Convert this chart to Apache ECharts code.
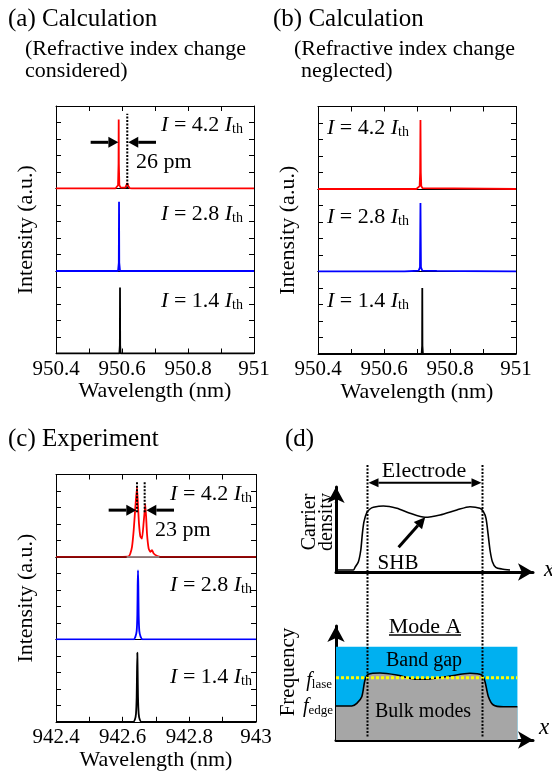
<!DOCTYPE html>
<html>
<head>
<meta charset="utf-8">
<script src="https://cdn.jsdelivr.net/npm/echarts@6/dist/echarts.min.js"></script>
<style>
  html, body { margin: 0; padding: 0; background: #fff; }
  #chart { width: 552px; height: 773px; }
</style>
</head>
<body>
<div id="chart"></div>
<script>
(function () {
  var FONT = '"Liberation Serif", "Times New Roman", serif';
  var TRACE_COLORS = ['#ff0000', '#0000ff', '#000000'];
  var CURRENTS = ['4.2', '2.8', '1.4'];

  // (a) calculation, refractive index change considered  [wavelength nm, intensity]
  var A_RED = [[950.4, 0], [950.58, 0], [950.585, 0.01], [950.588, 0.04], [950.5895, 0.3], [950.590, 0.836],
    [950.5905, 0.3], [950.592, 0.04], [950.596, 0.01], [950.61, 0.01], [950.613, 0.03], [950.616, 0.065],
    [950.619, 0.03], [950.623, 0.005], [950.63, 0], [951, 0]];
  var A_BLUE = [[950.4, 0], [950.588, 0], [950.5903, 0.1], [950.591, 0.84], [950.5917, 0.1], [950.594, 0], [951, 0]];
  var A_BLACK = [[950.4, 0], [950.592, 0], [950.5935, 0.1], [950.594, 0.8], [950.5945, 0.1], [950.596, 0], [951, 0]];

  // (b) calculation, refractive index change neglected
  var B_RED = [[950.4, 0], [950.698, 0], [950.704, 0.01], [950.708, 0.035], [950.7095, 0.2], [950.7105, 0.835],
    [950.7115, 0.2], [950.713, 0.035], [950.717, 0.01], [950.723, 0], [951, 0]];
  var B_BLUE = [[950.4, 0], [950.662, 0], [950.666, 0.008], [950.705, 0.01], [950.709, 0.05], [950.7105, 0.83],
    [950.712, 0.05], [950.716, 0.01], [950.76, 0.008], [950.764, 0], [951, 0]];
  var B_BLACK = [[950.4, 0], [950.714, 0], [950.7155, 0.1], [950.716, 0.8], [950.7165, 0.1], [950.718, 0], [951, 0]];

  // (c) experiment
  var C_RED = [[942.4, 0], [942.6, 0], [942.618, 0.005], [942.623, 0.04], [942.628, 0.12], [942.633, 0.32],
    [942.638, 0.6], [942.643, 0.85], [942.646, 0.62], [942.649, 0.4], [942.653, 0.25], [942.658, 0.22],
    [942.663, 0.42], [942.668, 0.64], [942.673, 0.28], [942.678, 0.1], [942.683, 0.06], [942.688, 0.08],
    [942.693, 0.04], [942.704, 0.01], [942.714, 0], [943, 0]];
  var C_BLUE = [[942.4, 0], [942.633, 0], [942.638, 0.03], [942.642, 0.1], [942.644, 0.3], [942.645, 0.65],
    [942.646, 0.836], [942.647, 0.65], [942.648, 0.3], [942.65, 0.1], [942.654, 0.03], [942.66, 0], [943, 0]];
  var C_BLACK = [[942.4, 0], [942.632, 0], [942.637, 0.03], [942.64, 0.1], [942.642, 0.3], [942.643, 0.6],
    [942.644, 0.84], [942.645, 0.6], [942.646, 0.3], [942.648, 0.1], [942.651, 0.03], [942.656, 0], [943, 0]];

  // split annotations: [x, yFrom, yTo] and arrows [xStart, xTip, y]
  var A_SPLIT = [[950.616, 0, 0.905]];
  var A_ARROWS = [[950.505, 950.589, 0.56], [950.703, 950.619, 0.56]];
  var C_SPLIT = [[942.643, 0.54, 0.92], [942.666, 0.54, 0.92]];
  var C_ARROWS = [[942.558, 942.641, 0.567], [942.754, 942.671, 0.567]];

  // (d) schematic, arbitrary units
  var D_CARRIER = [[0, 2], [8.7, 2], [9.5, 4.7], [11.2, 10.3], [12.4, 22], [13.2, 38.7], [14, 50.3], [15.4, 59.3],
    [17, 63], [18.7, 64.7], [23.7, 66], [30.4, 63.7], [37, 58.7], [44.5, 54.7], [52, 57], [60.4, 62], [67, 65.3],
    [72, 63.7], [73.7, 60.3], [75, 53.7], [76, 38.7], [77, 22], [78.2, 10.3], [79.9, 4.7], [82.9, 3], [87, 2]];
  var D_EDGE = [[0, 34], [7.9, 34], [10.4, 36.7], [12.9, 43.3], [14.5, 60], [16.2, 65.7], [22, 67], [30.4, 65],
    [40.4, 60.7], [47, 61], [57, 64], [67, 66.7], [72.9, 65], [74.5, 58.3], [76.2, 43.3], [78.7, 35],
    [83.7, 33.3], [90.7, 33.3]];
  var BAND_TOP = 93.3;
  var BAND_END = 90.7;
  var F_LASE = 62.3;
  var ELECTRODE = [15.75, 73.25];
  var ELECTRODE_ARROW_Y = 89.3;
  var SHB_ARROW = [[31.3, 24.7], [44.6, 54.7]];

  var PANELS = [
    { left: 56, width: 198, tops: [106, 188.5, 271], h: 82.5, min: 950.4, max: 951, data: [A_RED, A_BLUE, A_BLACK] },
    { left: 318, width: 198, tops: [106.5, 189, 271.5], h: 82.5, min: 950.4, max: 951, data: [B_RED, B_BLUE, B_BLACK] },
    { left: 56, width: 200, tops: [474.5, 557, 639.5], h: 82.3, min: 942.4, max: 943, data: [C_RED, C_BLUE, C_BLACK] }
  ];

  function fmt(v) {
    return Math.abs(v - Math.round(v)) < 1e-6 ? String(Math.round(v)) : v.toFixed(1);
  }

  var grids = [], xAxes = [], yAxes = [], series = [];
  var AX = { color: '#000', width: 1 };

  PANELS.forEach(function (p, pi) {
    for (var k = 0; k < 3; k++) {
      var gi = grids.length;
      var isTop = k === 0, isBottom = k === 2;
      grids.push({ left: p.left, top: p.tops[k], width: p.width, height: p.h });
      xAxes.push({
        gridIndex: gi, type: 'value', position: 'bottom', min: p.min, max: p.max, interval: 0.2,
        axisLine: { show: true, onZero: false, lineStyle: AX },
        axisTick: { show: isBottom, inside: true, length: 5, lineStyle: AX },
        minorTick: { show: isBottom, splitNumber: 2, length: 5, lineStyle: AX },
        axisLabel: { show: isBottom, formatter: fmt, margin: 5, color: '#000', fontFamily: FONT, fontSize: 21 },
        splitLine: { show: false },
        name: isBottom ? 'Wavelength (nm)' : '', nameLocation: 'middle', nameGap: 27,
        nameTextStyle: { color: '#000', fontFamily: FONT, fontSize: 22 }
      });
      xAxes.push({
        gridIndex: gi, type: 'value', position: 'top', min: p.min, max: p.max, interval: 0.2,
        axisLine: { show: true, onZero: false, lineStyle: AX },
        axisTick: { show: isTop, inside: true, length: 5, lineStyle: AX },
        minorTick: { show: isTop, splitNumber: 2, length: 5, lineStyle: AX },
        axisLabel: { show: false }, splitLine: { show: false }
      });
      yAxes.push({
        gridIndex: gi, type: 'value', position: 'left', min: 0, max: 1, interval: 0.2,
        axisLine: { show: true, onZero: false, lineStyle: AX },
        axisTick: { show: true, inside: true, length: 5, lineStyle: AX },
        axisLabel: { show: false }, splitLine: { show: false },
        name: k === 1 ? 'Intensity (a.u.)' : '', nameLocation: 'middle', nameGap: 19,
        nameTextStyle: { color: '#000', fontFamily: FONT, fontSize: 22 }
      });
      yAxes.push({
        gridIndex: gi, type: 'value', position: 'right', min: 0, max: 1, interval: 0.2,
        axisLine: { show: true, onZero: false, lineStyle: AX },
        axisTick: { show: true, inside: true, length: 5, lineStyle: AX },
        axisLabel: { show: false }, splitLine: { show: false }
      });
      var s = {
        type: 'line', xAxisIndex: 2 * gi, yAxisIndex: 2 * gi, data: p.data[k],
        showSymbol: false, symbol: 'none', silent: true,
        smooth: pi === 2 ? 0.15 : false,
        lineStyle: { color: TRACE_COLORS[k], width: 1.8 }
      };
      if (pi === 2 && k === 0) {
        s.markLine = {
          silent: true, symbol: 'none', label: { show: false },
          data: [
            { yAxis: 0, lineStyle: { color: '#7a0a0a', width: 1.6, type: 'solid' } },
            [{ coord: [942.612, 0], lineStyle: { color: '#9a9a9a', width: 1.6, type: 'solid' } }, { coord: [942.71, 0] }]
          ]
        };
      }
      series.push(s);
    }
  });

  // (d) schematic grids
  var D_GRIDS = [
    { left: 336, top: 487, width: 197, height: 85, ymax: 85 },
    { left: 336, top: 626, width: 197, height: 114, ymax: 114 }
  ];
  var dIdx = [];
  D_GRIDS.forEach(function (g) {
    var gi = grids.length;
    dIdx.push(gi);
    grids.push({ left: g.left, top: g.top, width: g.width, height: g.height });
    xAxes.push({
      gridIndex: gi, type: 'value', min: 0, max: 98.5, position: 'bottom',
      axisLine: { show: true, onZero: false, symbol: ['none', 'arrow'], symbolSize: [13, 15], lineStyle: { color: '#000', width: 3 } },
      axisTick: { show: false }, axisLabel: { show: false }, splitLine: { show: false }
    });
    yAxes.push({
      gridIndex: gi, type: 'value', min: 0, max: g.ymax, position: 'left',
      axisLine: { show: true, onZero: false, symbol: ['none', 'arrow'], symbolSize: [13, 16], lineStyle: { color: '#000', width: 3 } },
      axisTick: { show: false }, axisLabel: { show: false }, splitLine: { show: false }
    });
  });
  var xD1 = xAxes.length - 2, yD1 = yAxes.length - 2, xD2 = xAxes.length - 1, yD2 = yAxes.length - 1;

  series.push({
    type: 'line', xAxisIndex: xD1, yAxisIndex: yD1, data: D_CARRIER, showSymbol: false, silent: true,
    smooth: 0.25, lineStyle: { color: '#000', width: 1.6 }, z: 3
  });
  series.push({
    type: 'line', xAxisIndex: xD2, yAxisIndex: yD2, data: [[0, BAND_TOP], [BAND_END, BAND_TOP]],
    showSymbol: false, silent: true, lineStyle: { width: 0 },
    areaStyle: { color: '#00b0f0', opacity: 1 }, z: 1
  });
  series.push({
    type: 'line', xAxisIndex: xD2, yAxisIndex: yD2, data: D_EDGE, showSymbol: false, silent: true,
    smooth: 0.25, lineStyle: { color: '#000', width: 1.6 },
    areaStyle: { color: '#a6a6a6', opacity: 1 }, z: 2
  });
  series.push({
    type: 'line', xAxisIndex: xD2, yAxisIndex: yD2, data: [[0, F_LASE], [BAND_END, F_LASE]],
    showSymbol: false, silent: true, lineStyle: { color: '#ffff00', width: 3, type: [3, 2] }, z: 4
  });

  var chart = echarts.init(document.getElementById('chart'), null, { renderer: 'canvas' });
  chart.setOption({
    animation: false,
    backgroundColor: '#fff',
    textStyle: { fontFamily: FONT },
    grid: grids, xAxis: xAxes, yAxis: yAxes, series: series
  });

  function px(gi, pt) { return chart.convertToPixel({ gridIndex: gi }, pt); }

  function txt(x, y, text, size, o) {
    o = o || {};
    return {
      type: 'text', x: x, y: y, rotation: o.rot || 0, z: 100, silent: true,
      style: {
        text: text, fill: '#000', fontFamily: FONT, fontSize: size,
        fontStyle: o.italic ? 'italic' : 'normal',
        align: o.align || 'left', verticalAlign: 'middle', rich: o.rich
      }
    };
  }

  function arrow(p0, p1, w, head, half) {
    var ang = Math.atan2(p1[1] - p0[1], p1[0] - p0[0]);
    var bx = p1[0] - head * Math.cos(ang), by = p1[1] - head * Math.sin(ang);
    var nx = -Math.sin(ang), ny = Math.cos(ang);
    return [
      { type: 'line', z: 100, silent: true, shape: { x1: p0[0], y1: p0[1], x2: bx, y2: by }, style: { stroke: '#000', lineWidth: w } },
      { type: 'polygon', z: 100, silent: true, shape: { points: [[p1[0], p1[1]], [bx + nx * half, by + ny * half], [bx - nx * half, by - ny * half]] }, style: { fill: '#000' } }
    ];
  }

  function dotted(a, b, w) {
    return { type: 'line', z: 100, silent: true, shape: { x1: a[0], y1: a[1], x2: b[0], y2: b[1] },
      style: { stroke: '#000', lineWidth: w, lineDash: [2, 1.5] } };
  }

  function currentLabel(x, y, cur, align) {
    return txt(x, y, '{i|I} = ' + cur + ' {i|I}{s|th}', 22, {
      align: align,
      rich: {
        i: { fontStyle: 'italic', fontSize: 22, fontFamily: FONT },
        s: { fontSize: 14, fontFamily: FONT, verticalAlign: 'bottom', padding: [14, 0, 0, 0], lineHeight: 14 }
      }
    });
  }

  var g = [];
  // titles
  g.push(txt(8, 19, '(a) Calculation', 25));
  g.push(txt(25, 49, '(Refractive index change', 22));
  g.push(txt(25, 71, 'considered)', 22));
  g.push(txt(273, 19, '(b) Calculation', 25));
  g.push(txt(294, 49, '(Refractive index change', 22));
  g.push(txt(301, 71, 'neglected)', 22));
  g.push(txt(8, 439, '(c) Experiment', 25));
  g.push(txt(285, 439, '(d)', 25));

  // current labels
  var A_LY = [125, 214, 301], B_LY = [128, 217, 301], C_LY = [494, 585, 677];
  CURRENTS.forEach(function (c, k) {
    g.push(currentLabel(243, A_LY[k], c, 'right'));
    g.push(currentLabel(327, B_LY[k], c, 'left'));
    g.push(currentLabel(252, C_LY[k], c, 'right'));
  });

  // split annotations
  A_SPLIT.forEach(function (d) { g.push(dotted(px(0, [d[0], d[1]]), px(0, [d[0], d[2]]), 2)); });
  A_ARROWS.forEach(function (d) { g = g.concat(arrow(px(0, [d[0], d[2]]), px(0, [d[1], d[2]]), 3, 10, 5.5)); });
  C_SPLIT.forEach(function (d) { g.push(dotted(px(6, [d[0], d[1]]), px(6, [d[0], d[2]]), 2)); });
  C_ARROWS.forEach(function (d) { g = g.concat(arrow(px(6, [d[0], d[2]]), px(6, [d[1], d[2]]), 3, 10, 5.5)); });
  g.push(txt(136, 162, '26 pm', 22));
  g.push(txt(155, 530, '23 pm', 22));

  // (d) electrode lines and arrows
  var d1 = dIdx[0], d2 = dIdx[1];
  ELECTRODE.forEach(function (x) {
    var top = px(d1, [x, 107]), bot = px(d2, [x, 2]);
    g.push(dotted(top, bot, 2));
  });
  var eL = px(d1, [ELECTRODE[0], ELECTRODE_ARROW_Y]), eR = px(d1, [ELECTRODE[1], ELECTRODE_ARROW_Y]);
  var eM = [(eL[0] + eR[0]) / 2, eL[1]];
  g = g.concat(arrow(eM, [eL[0] + 1, eL[1]], 2, 10, 4.5));
  g = g.concat(arrow(eM, [eR[0] - 1, eR[1]], 2, 10, 4.5));
  g = g.concat(arrow(px(d1, SHB_ARROW[0]), px(d1, SHB_ARROW[1]), 3, 11, 5.5));

  g.push(txt(424, 471, 'Electrode', 22, { align: 'center' }));
  g.push(txt(310, 522, 'Carrier', 20, { align: 'center', rot: Math.PI / 2 }));
  g.push(txt(327, 522, 'density', 20, { align: 'center', rot: Math.PI / 2 }));
  g.push(txt(398, 563, 'SHB', 21, { align: 'center' }));
  g.push(txt(549, 570, 'x', 23, { align: 'center', italic: true }));
  g.push(txt(425, 627, 'Mode A', 22, { align: 'center' }));
  g.push({ type: 'line', z: 100, silent: true, shape: { x1: 389, y1: 635, x2: 461, y2: 635 }, style: { stroke: '#000', lineWidth: 1.5 } });
  g.push(txt(424, 661, 'Band gap', 20, { align: 'center' }));
  g.push(txt(423, 712, 'Bulk modes', 20, { align: 'center' }));
  g.push(txt(288, 672, 'Frequency', 21, { align: 'center', rot: Math.PI / 2 }));
  g.push(txt(544, 728, 'x', 23, { align: 'center', italic: true }));
  var fRich = {
    i: { fontStyle: 'italic', fontSize: 20, fontFamily: FONT },
    s: { fontSize: 13, fontFamily: FONT, verticalAlign: 'bottom', padding: [12, 0, 0, 0], lineHeight: 13 }
  };
  g.push(txt(332, 681, '{i|f}{s|lase}', 20, { align: 'right', rich: fRich }));
  g.push(txt(333, 707, '{i|f}{s|edge}', 20, { align: 'right', rich: fRich }));

  chart.setOption({ graphic: g });
})();
</script>
</body>
</html>
